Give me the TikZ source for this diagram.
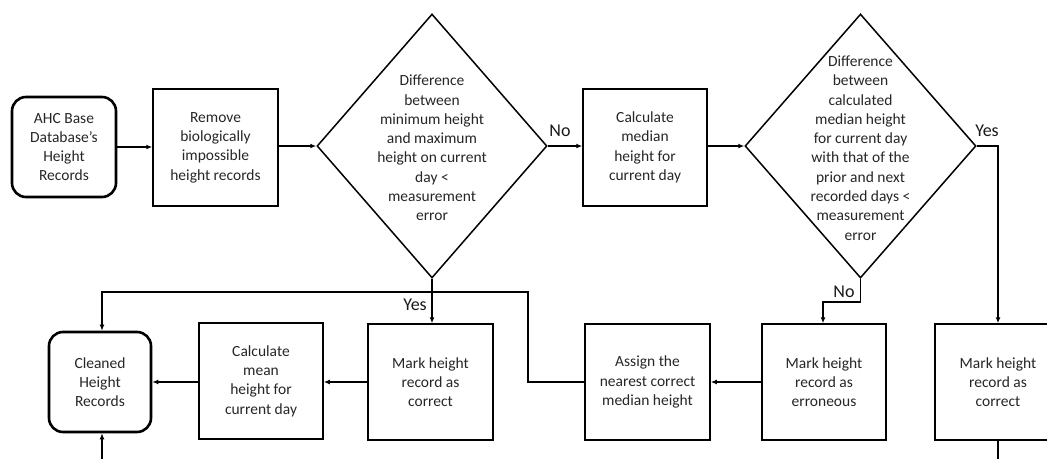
\documentclass[tikz,border=0pt]{standalone}
\usepackage{fontspec}
\setmainfont{Carlito}
\usetikzlibrary{shapes.geometric,arrows.meta}
\begin{document}
\begin{tikzpicture}[x=1pt,y=-1pt,
  txt/.style={font=\fontsize{15.5}{19.3}\selectfont, align=center, text=black!85},
  box/.style={txt, draw, line width=1.5pt, rectangle, inner sep=0pt, minimum width=124pt, minimum height=116pt},
  term/.style={box, rounded corners=14pt, line width=2.6pt},
  decision/.style={draw, diamond, line width=1.5pt, inner sep=0pt},
  conn/.style={line width=1.2pt, -{Latex[length=6pt,width=5pt]}},
  plain/.style={line width=1.2pt},
  lab/.style={font=\fontsize{18}{20}\selectfont, text=black!90, inner sep=0pt}]
\useasboundingbox (0,0) rectangle (1047,458);
% top row
\node[term, minimum width=104pt, minimum height=100pt] (ahc) at (64,147) {AHC Base\\Database's\\Height\\Records};
\node[box, minimum width=125pt, minimum height=117pt] (remove) at (215.5,147.5) {Remove\\biologically\\impossible\\height records};
\node[decision, minimum width=230pt, minimum height=264pt] (d1) at (432,146) {};
\node[txt] (d1t) at (432,148) {Difference\\between\\minimum height\\and maximum\\height on current\\day <\\measurement\\error};
\node[box, minimum height=117pt] (median) at (645,147.5) {Calculate\\median\\height for\\current day};
\node[decision, minimum width=231pt, minimum height=264pt] (d2) at (860.5,146) {};
\node[txt] (d2t) at (860.5,148) {Difference\\between\\calculated\\median height\\for current day\\with that of the\\prior and next\\recorded days <\\measurement\\error};
% bottom row
\node[term, minimum width=102pt, minimum height=100pt] (cleaned) at (100,382) {Cleaned\\Height\\Records};
\node[box] (mean) at (261,381) {Calculate\\mean\\height for\\current day};
\node[box, minimum width=125pt] (correct1) at (430.5,382) {Mark height\\record as\\correct};
\node[box, minimum width=125pt] (assign) at (647.5,382) {Assign the\\nearest correct\\median height};
\node[box] (erroneous) at (824,382) {Mark height\\record as\\erroneous};
\node[box, minimum width=126pt] (correct2) at (998,382) {Mark height\\record as\\correct};
% helper coordinates
\coordinate (yesturn) at (998,146);
\coordinate (noA) at (860.5,302);
\coordinate (noB) at (823,302);
\coordinate (asA) at (528,382);
\coordinate (asB) at (528,292);
\coordinate (asC) at (102,292);
\coordinate (botL) at (102,460);
\coordinate (botR) at (998,460);
% connectors
\draw[conn] (ahc.east |- 0,147) -- (remove.west |- 0,147);
\draw[conn] (remove.east |- 0,146) -- (d1.west);
\draw[conn] (d1.east) -- (median.west |- d1.east);
\draw[conn] (median.east |- d2.west) -- (d2.west);
\draw[conn] (d2.east) -- (yesturn) -- (correct2.north);
\draw[conn] (d2.south) -- (noA) -- (noB) -- (noB |- erroneous.north);
\draw[conn] (erroneous.west) -- (assign.east);
\draw[conn] (assign.west) -- (asA) -- (asB) -- (asC) -- (asC |- cleaned.north);
\draw[conn] (d1.south) -- (d1.south |- correct1.north);
\draw[conn] (correct1.west) -- (mean.east |- correct1.west);
\draw[conn] (mean.west |- cleaned.east) -- (cleaned.east);
\draw[plain] (correct2.south) -- (botR);
\draw[conn] (botL) -- (botL |- cleaned.south);
% labels
\node[lab] (noL1) at (560,131) {No};
\node[lab] (yesL2) at (987,131) {Yes};
\node[lab] (noL2) at (844,292) {No};
\node[lab] (yesL1) at (415,305) {Yes};
\end{tikzpicture}
\end{document}
